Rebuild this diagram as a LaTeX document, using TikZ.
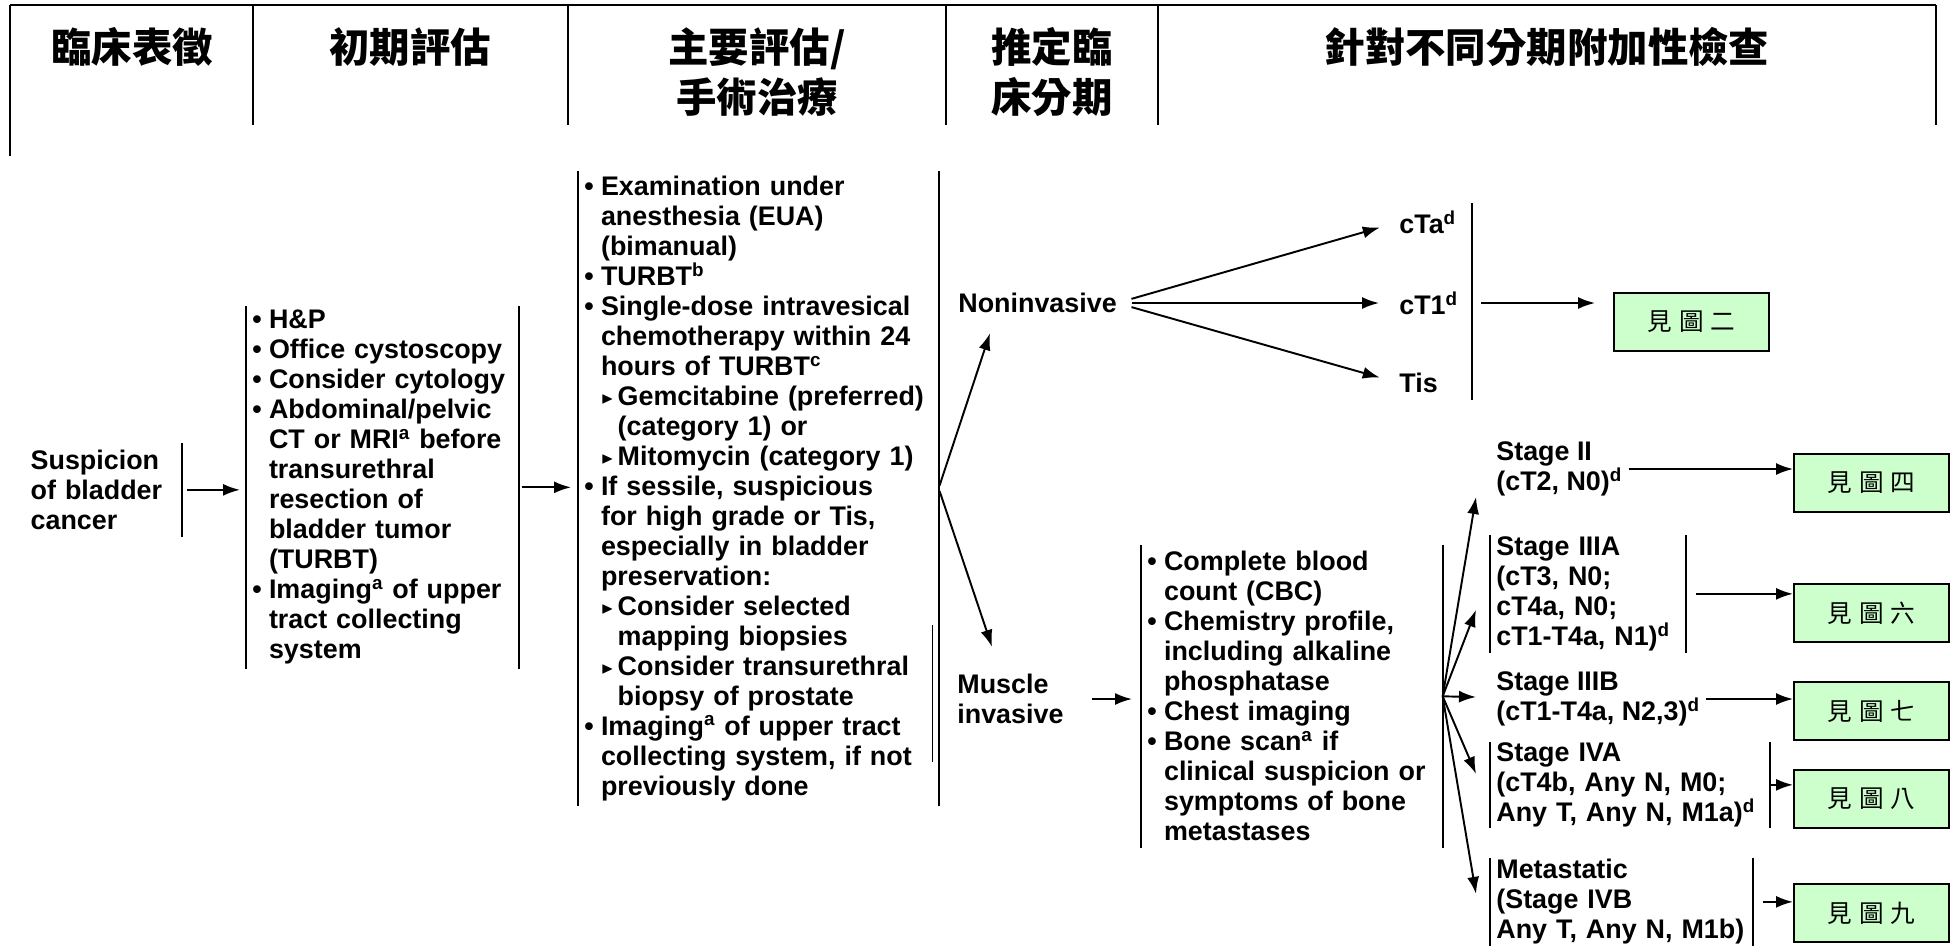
\documentclass[tikz,border=0pt]{standalone}
\usepackage{amssymb}
\usepackage{fontspec}
\setmainfont{Liberation Sans}
\newfontfamily\cjk{Noto Sans CJK TC}
\usetikzlibrary{arrows.meta}
\definecolor{figgreen}{HTML}{CCFFCC}
\newcommand{\blt}{\makebox[9.5pt][l]{•}}
\newcommand{\hgap}{\hspace*{9.5pt}}
\newcommand{\sblt}{\makebox[9.5pt][l]{\raisebox{1pt}{\scalebox{0.6}{$\blacktriangleright$}}}}
\newcommand{\sups}[1]{\textsuperscript{#1}}

\begin{document}
\begin{tikzpicture}[x=0.02cm,y=-0.02cm,
    hdr/.style={font=\cjk\bfseries\fontsize{23}{28.5}\selectfont, align=center, inner sep=0},
    lst/.style={font=\fontsize{15.3}{17.07}\selectfont\bfseries, align=left, anchor=north west, inner xsep=0.12cm, inner ysep=0},
    lbl/.style={font=\fontsize{15.3}{17.07}\selectfont\bfseries, align=left, inner sep=0},
    fig/.style={draw, line width=1.1pt, fill=figgreen, anchor=north west, minimum width=3.1cm, minimum height=1.16cm, font=\cjk\fontsize{14}{16}\selectfont},
    bar/.style={line width=1pt},
    arr/.style={line width=1.1pt, -{Latex[length=3.4mm,width=2.4mm]}}]
    \useasboundingbox (0,0) rectangle (1956,948);
    % header row
    \draw[line width=1.6pt] (10,5) -- (1936,5);
    \draw[line width=1.1pt] (10,5) -- (10,156);
    \foreach \x in {253,568,946,1158,1936}
      \draw[line width=1.1pt] (\x,5) -- (\x,125);
    \node[hdr] (hclin) at (132,47) {臨床表徵};
    \node[hdr] (hinit) at (410,47) {初期評估};
    \node[hdr] (hmain) at (757,72) {主要評估/\\手術治療};
    \node[hdr] (hstage) at (1052,72) {推定臨\\床分期};
    \node[hdr] (hextra) at (1547,47) {針對不同分期附加性檢查};

    % workup columns
    \node[lst, anchor=north east, text width=2.9cm, minimum height=1.86cm] (susp) at (182,443)
      {Suspicion\\of bladder\\cancer};
    \draw[bar] (susp.north east) -- (susp.south east);

    \node[lst, text width=5.2cm, minimum height=7.24cm] (init) at (246,306)
      {\blt H\&P\\
       \blt Office cystoscopy\\
       \blt Consider cytology\\
       \blt Abdominal/pelvic\\
       \hgap CT or MRI\sups{a} before\\
       \hgap transurethral\\
       \hgap resection of\\
       \hgap bladder tumor\\
       \hgap (TURBT)\\
       \blt Imaging\sups{a} of upper\\
       \hgap tract collecting\\
       \hgap system};
    \draw[bar] (init.north west) -- (init.south west) (init.north east) -- (init.south east);

    \node[lst, text width=6.96cm, minimum height=12.68cm] (main) at (578,171)
      {\blt Examination under\\
       \hgap anesthesia (EUA)\\
       \hgap (bimanual)\\
       \blt TURBT\sups{b}\\
       \blt Single-dose intravesical\\
       \hgap chemotherapy within 24\\
       \hgap hours of TURBT\sups{c}\\
       \hgap\sblt Gemcitabine (preferred)\\
       \hgap\hgap (category 1) or\\
       \hgap\sblt Mitomycin (category 1)\\
       \blt If sessile, suspicious\\
       \hgap for high grade or Tis,\\
       \hgap especially in bladder\\
       \hgap preservation:\\
       \hgap\sblt Consider selected\\
       \hgap\hgap mapping biopsies\\
       \hgap\sblt Consider transurethral\\
       \hgap\hgap biopsy of prostate\\
       \blt Imaging\sups{a} of upper tract\\
       \hgap collecting system, if not\\
       \hgap previously done};
    \draw[bar] (main.north west) -- (main.south west) (main.north east) -- (main.south east);
    \draw[line width=0.5pt] (932,625) -- (932,762);

    % clinical stage
    \node[lbl, anchor=west] (noninv) at (958,303) {Noninvasive};
    \node[lbl, anchor=west] (muscle) at (957,699) {Muscle\\invasive};
    \node[lbl, anchor=west] (cta) at (1399,222) {cTa\sups{d}};
    \node[lbl, anchor=west] (ct1) at (1399,303) {cT1\sups{d}};
    \node[lbl, anchor=west] (tis) at (1399,383) {Tis};
    \draw[bar] (1472,203) -- (1472,400);
    \coordinate (cgrp) at (1472,303);

    \node[lst, text width=5.78cm, minimum height=6.04cm] (cbc) at (1141,545)
      {\blt Complete blood\\
       \hgap count (CBC)\\
       \blt Chemistry profile,\\
       \hgap including alkaline\\
       \hgap phosphatase\\
       \blt Chest imaging\\
       \blt Bone scan\sups{a} if\\
       \hgap clinical suspicion or\\
       \hgap symptoms of bone\\
       \hgap metastases};
    \draw[bar] (cbc.north west) -- (cbc.south west) (cbc.north east) -- (cbc.south east);
    \coordinate (fan) at (cbc.east);

    \node[lst, anchor=west] (st2) at (1490,469) {Stage II\\(cT2, N0)\sups{d}};
    \node[lst, text width=3.66cm, minimum height=2.34cm] (iiia) at (1490,535)
      {Stage IIIA\\(cT3, N0;\\cT4a, N0;\\cT1-T4a, N1)\sups{d}};
    \node[lst, anchor=west] (iiib) at (1490,699) {Stage IIIB\\(cT1-T4a, N2,3)\sups{d}};
    \node[lst, text width=5.34cm, minimum height=1.7cm] (iva) at (1490,742)
      {Stage IVA\\(cT4b, Any N, M0;\\Any T, Any N, M1a)\sups{d}};
    \node[lst, text width=5.0cm, minimum height=1.74cm] (meta) at (1490,858)
      {Metastatic\\(Stage IVB\\Any T, Any N, M1b)};
    \foreach \n in {iiia,iva,meta}
      \draw[bar] (\n.north west) -- (\n.south west) (\n.north east) -- (\n.south east);

    % see-figure boxes
    \node[fig] (b2) at (1613,292) {見\hspace{4pt}圖\hspace{4pt}二};
    \node[fig] (b4) at (1793,453) {見\hspace{4pt}圖\hspace{4pt}四};
    \node[fig] (b6) at (1793,583) {見\hspace{4pt}圖\hspace{4pt}六};
    \node[fig] (b7) at (1793,681) {見\hspace{4pt}圖\hspace{4pt}七};
    \node[fig] (b8) at (1793,769) {見\hspace{4pt}圖\hspace{4pt}八};
    \node[fig] (b9) at (1793,883) {見\hspace{4pt}圖\hspace{4pt}九};

    % arrows
    \draw[arr, shorten <=0.1cm, shorten >=0.12cm] (susp.east) -- (susp.east -| init.west);
    \draw[arr, shorten <=0.06cm, shorten >=0.14cm] (init.east) -- (init.east -| main.west);
    \draw[arr, shorten <=0.06cm] (main.east) -- ([shift={(32,20)}]noninv.south west);
    \draw[arr, shorten <=0.06cm] (main.east) -- ([shift={(35,-27)}]muscle.north west);
    \foreach \t in {cta,ct1,tis}
      \draw[arr, shorten <=0.3cm, shorten >=0.4cm] (noninv.east) -- (\t.west);
    \draw[arr, shorten <=0.18cm, shorten >=0.36cm] (cgrp) -- (cgrp -| b2.west);
    \draw[arr, shorten <=0.56cm, shorten >=0.18cm] (muscle.east) -- (muscle.east -| cbc.west);
    \draw[arr] (fan) -- ([shift={(-14,28)}]st2.west);
    \draw[arr] (fan) -- ([shift={(-14,16)}]iiia.west);
    \draw[arr] (fan) -- ([shift={(-14,-2)}]iiib.west);
    \draw[arr] (fan) -- ([shift={(-14,-11)}]iva.west);
    \draw[arr] (fan) -- ([shift={(-14,-8)}]meta.west);
    \draw[arr] (st2.east) -- (st2.east -| b4.west);
    \draw[arr, shorten <=0.2cm] (iiia.east) -- (iiia.east -| b6.west);
    \draw[arr] (iiib.east) -- (iiib.east -| b7.west);
    \draw[arr] (iva.east) -- (iva.east -| b8.west);
    \draw[arr, shorten <=0.2cm] (meta.east) -- (meta.east -| b9.west);
\end{tikzpicture}
\end{document}
